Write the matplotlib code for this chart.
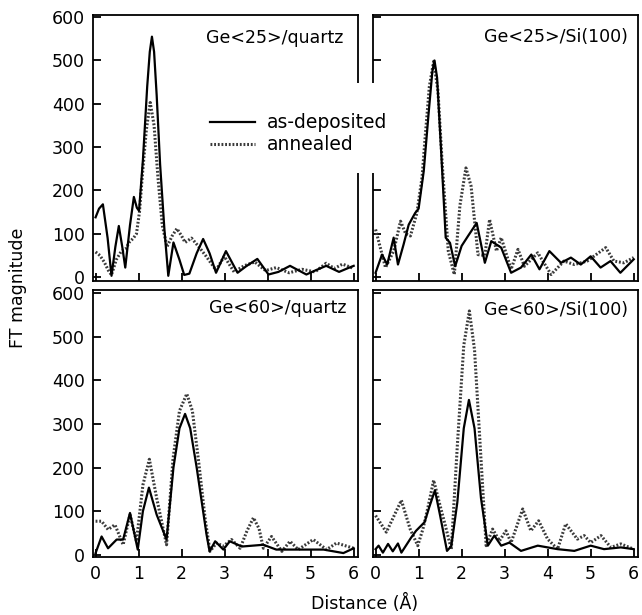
import matplotlib

matplotlib.use("Agg")
import matplotlib.pyplot as plt  # noqa: E402
from matplotlib.lines import Line2D  # noqa: E402
from matplotlib.patches import Rectangle  # noqa: E402

plt.rcParams["font.family"] = ["DejaVu Sans"]

# Ge<25>/quartz
tl_dep_x = [0, 0.08, 0.17, 0.28, 0.37, 0.46, 0.54, 0.62, 0.69, 0.8, 0.89, 0.96, 1.01, 1.1, 1.2, 1.26,
            1.31, 1.36, 1.42, 1.5, 1.6, 1.69, 1.81, 1.95, 2.06, 2.18, 2.35, 2.5, 2.65, 2.8, 3.03, 3.3,
            3.5, 3.76, 4.02, 4.25, 4.52, 4.9, 5.1, 5.36, 5.66, 5.85, 6.0]
tl_dep_y = [138, 158, 168, 90, 3, 70, 118, 70, 22, 120, 185, 160, 153, 270, 440, 520,
            555, 520, 420, 260, 110, 3, 80, 40, 5, 8, 55, 88, 55, 10, 60, 10,
            25, 42, 6, 12, 26, 6, 15, 26, 12, 20, 26]
tl_ann_x = [0, 0.1, 0.2, 0.3, 0.37, 0.48, 0.6, 0.7, 0.78, 0.88, 0.95, 1.02, 1.1, 1.18, 1.27, 1.36,
            1.45, 1.55, 1.66, 1.78, 1.89, 2.0, 2.08, 2.23, 2.4, 2.57, 2.8, 2.99, 3.22, 3.45, 3.7,
            3.95, 4.2, 4.5, 4.8, 5.1, 5.36, 5.55, 5.74, 6.0]
tl_ann_y = [58, 50, 35, 15, 5, 40, 60, 65, 80, 90, 100, 150, 250, 340, 403, 350,
            230, 120, 70, 95, 112, 95, 80, 90, 70, 48, 16, 48, 12, 26, 35,
            15, 22, 10, 18, 12, 32, 20, 30, 20]

# Ge<25>/Si(100)
tr_dep_x = [0, 0.15, 0.27, 0.42, 0.52, 0.65, 0.77, 0.92, 1.0, 1.12, 1.23, 1.32, 1.37, 1.43, 1.52,
            1.63, 1.73, 1.85, 2.0, 2.15, 2.35, 2.54, 2.69, 2.92, 3.15, 3.38, 3.62, 3.81, 4.04,
            4.31, 4.54, 4.77, 5.0, 5.23, 5.46, 5.69, 6.0]
tr_dep_y = [10, 52, 29, 91, 29, 75, 121, 148, 158, 245, 375, 475, 500, 460, 298,
            91, 79, 25, 72, 95, 125, 33, 83, 68, 10, 22, 52, 18, 60,
            33, 45, 29, 48, 22, 37, 10, 41]
tr_ann_x = [0, 0.23, 0.42, 0.58, 0.7, 0.81, 0.96, 1.08, 1.15, 1.25, 1.35, 1.45, 1.55, 1.69, 1.83,
            1.96, 2.1, 2.22, 2.38, 2.54, 2.65, 2.81, 2.92, 3.15, 3.31, 3.46, 3.77, 4.08, 4.38,
            4.62, 4.92, 5.35, 5.54, 5.77, 6.0]
tr_ann_y = [110, 22, 60, 129, 100, 95, 148, 230, 320, 440, 498, 430, 260, 60, 6,
            165, 252, 210, 52, 50, 133, 60, 91, 18, 64, 25, 56, 6, 37,
            29, 37, 68, 37, 33, 45]

# Ge<60>/quartz
bl_dep_x = [0, 0.14, 0.29, 0.49, 0.64, 0.8, 0.98, 1.1, 1.24, 1.42, 1.65, 1.81, 1.95, 2.08, 2.2,
            2.35, 2.58, 2.65, 2.78, 2.97, 3.12, 3.4, 3.9, 4.2, 4.5, 5.3, 5.76, 6.0]
bl_dep_y = [4, 42, 15, 35, 35, 96, 12, 100, 154, 92, 35, 200, 290, 323, 290,
            200, 46, 8, 31, 12, 31, 19, 23, 12, 12, 12, 4, 15]
bl_ann_x = [0, 0.14, 0.29, 0.45, 0.64, 0.8, 0.95, 1.1, 1.25, 1.42, 1.65, 1.8, 1.95, 2.12, 2.25,
            2.4, 2.55, 2.66, 2.81, 2.97, 3.16, 3.36, 3.52, 3.67, 3.8, 3.9, 4.09, 4.33, 4.52,
            4.71, 5.06, 5.37, 5.6, 6.0]
bl_ann_y = [77, 77, 58, 69, 23, 92, 31, 160, 219, 130, 23, 220, 330, 369, 330,
            210, 80, 8, 27, 20, 35, 15, 55, 85, 60, 15, 42, 8, 31,
            12, 35, 12, 27, 15]

# Ge<60>/Si(100)
br_dep_x = [0, 0.07, 0.17, 0.29, 0.4, 0.52, 0.6, 0.83, 0.94, 1.14, 1.25, 1.38, 1.5, 1.66, 1.76,
            1.9, 2.05, 2.17, 2.3, 2.45, 2.61, 2.76, 2.92, 3.11, 3.38, 3.77, 4.23, 4.62, 5.0,
            5.31, 5.7, 6.0]
br_dep_y = [13, 21, 5, 25, 8, 26, 5, 40, 55, 75, 110, 148, 90, 9, 20,
            120, 290, 355, 290, 130, 21, 44, 21, 28, 9, 21, 13, 9, 21,
            13, 17, 13]
br_ann_x = [0, 0.25, 0.6, 0.8, 0.98, 1.1, 1.22, 1.35, 1.48, 1.6, 1.76, 1.9, 2.05, 2.18, 2.3,
            2.45, 2.57, 2.72, 2.88, 3.03, 3.15, 3.42, 3.61, 3.79, 4.0, 4.23, 4.42, 4.69, 4.85,
            5.0, 5.24, 5.47, 5.7, 6.0]
br_ann_y = [90, 52, 125, 60, 21, 59, 110, 171, 120, 75, 13, 250, 480, 559, 470,
            220, 21, 59, 32, 55, 28, 105, 55, 78, 36, 13, 71, 36, 44,
            28, 44, 17, 25, 13]

panel_titles = ["Ge<25>/quartz", "Ge<25>/Si(100)", "Ge<60>/quartz", "Ge<60>/Si(100)"]
series_labels = ["as-deposited", "annealed"]
x_ticks = [0, 1, 2, 3, 4, 5, 6]
y_ticks = [0, 100, 200, 300, 400, 500, 600]

W, H = 642, 615
DOT = "#3a3a3a"


def px_axes(fig, left, top, right, bottom):
    return fig.add_axes([left / W, 1 - bottom / H, (right - left) / W, (bottom - top) / H])


def draw_panel(ax, dep_x, dep_y, ann_x, ann_y, title, tpos, ylim, xlabels, ylabels):
    ax.plot(ann_x, ann_y, color=DOT, lw=2.2, ls=(0, (0.6, 0.6)), zorder=2)
    ax.plot(dep_x, dep_y, color="black", lw=1.6, zorder=3)
    ax.set_xlim(-0.06, 6.1)
    ax.set_ylim(*ylim)
    ax.set_xticks(x_ticks)
    ax.set_yticks(y_ticks)
    ax.tick_params(direction="in", length=6, width=1.3, labelsize=12.5,
                   top=False, right=False, labelbottom=xlabels, labelleft=ylabels)
    ax.tick_params(axis="x", pad=6)
    ax.tick_params(axis="y", pad=6)
    for sp in ax.spines.values():
        sp.set_linewidth(1.3)
    ax.text(tpos[0], tpos[1], title, transform=ax.transAxes, ha="right", va="center",
            fontsize=12.5)


fig = plt.figure(figsize=(W / 100, H / 100), dpi=100)
ax_tl = px_axes(fig, 93, 15, 358, 281)
ax_tr = px_axes(fig, 373, 15, 638, 281)
ax_bl = px_axes(fig, 93, 290, 358, 557)
ax_br = px_axes(fig, 373, 290, 638, 557)

draw_panel(ax_tl, tl_dep_x, tl_dep_y, tl_ann_x, tl_ann_y, panel_titles[0], (0.945, 0.913),
           (-9, 605), False, True)
draw_panel(ax_tr, tr_dep_x, tr_dep_y, tr_ann_x, tr_ann_y, panel_titles[1], (0.962, 0.917),
           (-9, 605), False, False)
draw_panel(ax_bl, bl_dep_x, bl_dep_y, bl_ann_x, bl_ann_y, panel_titles[2], (0.958, 0.933),
           (-5, 607), True, True)
draw_panel(ax_br, br_dep_x, br_dep_y, br_ann_x, br_ann_y, panel_titles[3], (0.962, 0.925),
           (-5, 607), True, False)

# white patch breaking the spines behind the legend
fig.add_artist(Rectangle((190 / W, 1 - 173 / H), 215 / W, 90 / H, facecolor="white",
                         edgecolor="none", zorder=3))
handles = [Line2D([], [], color="black", lw=1.6),
           Line2D([], [], color=DOT, lw=2.2, ls=(0, (0.6, 0.6)))]
fig.legend(handles, series_labels, loc="upper left", bbox_to_anchor=(201 / W, 1 - 104 / H),
           frameon=False, fontsize=13.5, handlelength=2.4, handletextpad=0.6,
           borderpad=0, labelspacing=0.15).set_zorder(4)

fig.text(18 / W, 1 - 288 / H, "FT magnitude", rotation=90, ha="center", va="center",
         fontsize=12.5)
fig.text(365 / W, 1 - 603 / H, "Distance (Å)", ha="center", va="center", fontsize=12.5)

fig.savefig("out.png", dpi=100)
plt.close(fig)
